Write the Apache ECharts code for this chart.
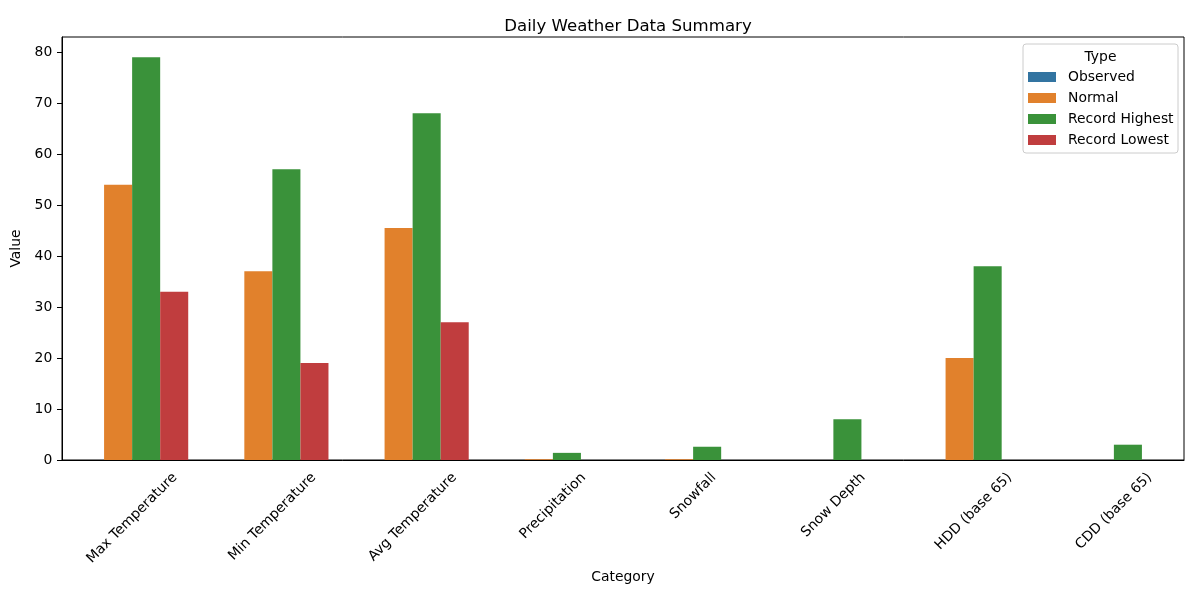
<!DOCTYPE html>
<html><head><meta charset="utf-8">
<script src="https://cdn.jsdelivr.net/npm/echarts@6/dist/echarts.min.js"></script>
<style>html,body{margin:0;padding:0;background:#fff}#c{width:1200px;height:600px}</style>
</head><body><div id="c"></div>
<script>
const categories = ['Max Temperature','Min Temperature','Avg Temperature','Precipitation','Snowfall','Snow Depth','HDD (base 65)','CDD (base 65)'];
const seriesNames = ['Observed','Normal','Record Highest','Record Lowest'];
const observed = [0,0,0,0,0,0,0,0];
const normal = [54,37,45.5,0.15,0.15,0,20,0];
const recordHighest = [79,57,68,1.4,2.6,8,38,3];
const recordLowest = [33,19,27,0,0,0,0,0];
const yTicks = [0,10,20,30,40,50,60,70,80];
const colors = ['#3274a1','#e1812c','#3a923a','#c03d3e'];

const FONT = '"DejaVu Sans", sans-serif';
const FS = 13.9;
const ctx = document.createElement('canvas').getContext('2d');
ctx.font = FS + 'px ' + FONT;
const C = Math.SQRT1_2;

const chart = echarts.init(document.getElementById('c'), null, {renderer:'canvas'});
const values = [observed, normal, recordHighest, recordLowest];

const barSeries = seriesNames.map((n,i)=>({
  name:n, type:'bar', data: values[i], barGap:'0%', barCategoryGap:'20%',
  itemStyle:{color: colors[i]}
}));

const labelSeries = {
  type:'custom', name:'labels', silent:true, clip:false, z:10,
  data: categories.map((c,i)=>[c,0]),
  renderItem(params, api){
    const idx = params.dataIndex;
    const p = api.coord([idx, 0]);
    const text = categories[idx];
    const L = ctx.measureText(text).width;
    const h = 16;
    return {
      type:'text', x: p[0], y: p[1] + 9.7 + (L + h) * C / 2, rotation: Math.PI/4,
      style:{text: text, fill:'#000', font: FS + 'px ' + FONT, align:'center', verticalAlign:'middle'}
    };
  }
};

chart.setOption({
  animation:false,
  backgroundColor:'#fff',
  title:{text:'Daily Weather Data Summary', left:623, top:13, textAlign:'center',
    textStyle:{fontFamily:FONT, fontSize:16.6, fontWeight:'normal', color:'#000'}},
  grid:{left:62, right:16, top:37, bottom:140, show:true, borderColor:'#000', borderWidth:1, containLabel:false},
  legend:{data:seriesNames, orient:'vertical', left:1028, top:70, padding:0,
    itemWidth:28, itemHeight:10, itemGap:7, icon:'rect',
    textStyle:{fontFamily:FONT, fontSize:FS, lineHeight:14, color:'#000', padding:[0,0,0,7]}},
  graphic:[
    {type:'rect', z:0, shape:{x:1023, y:44, width:155, height:109, r:3},
      style:{fill:'rgba(255,255,255,0.8)', stroke:'#cccccc', lineWidth:1}},
    {type:'text', z:1, x:1100.5, y:57, style:{text:'Type', font: FS + 'px ' + FONT, fill:'#000', align:'center', verticalAlign:'middle'}}
  ],
  xAxis:{type:'category', data:categories,
    name:'Category', nameLocation:'middle', nameGap:110,
    nameTextStyle:{fontFamily:FONT, fontSize:FS, color:'#000'},
    axisLine:{lineStyle:{color:'#000', width:1}},
    axisTick:{alignWithLabel:true, length:5, lineStyle:{color:'#000'}},
    axisLabel:{show:false}},
  yAxis:{type:'value', min:0, max:82.95,
    name:'Value', nameLocation:'middle', nameGap:29, nameRotate:90,
    nameTextStyle:{fontFamily:FONT, fontSize:FS, color:'#000'},
    axisLine:{show:true, lineStyle:{color:'#000', width:1}},
    axisTick:{show:true, length:5, lineStyle:{color:'#000'}, customValues:yTicks},
    axisLabel:{fontFamily:FONT, fontSize:FS, color:'#000', margin:9.7, customValues:yTicks},
    splitLine:{show:false}},
  series:[...barSeries, labelSeries]
});
</script></body></html>
